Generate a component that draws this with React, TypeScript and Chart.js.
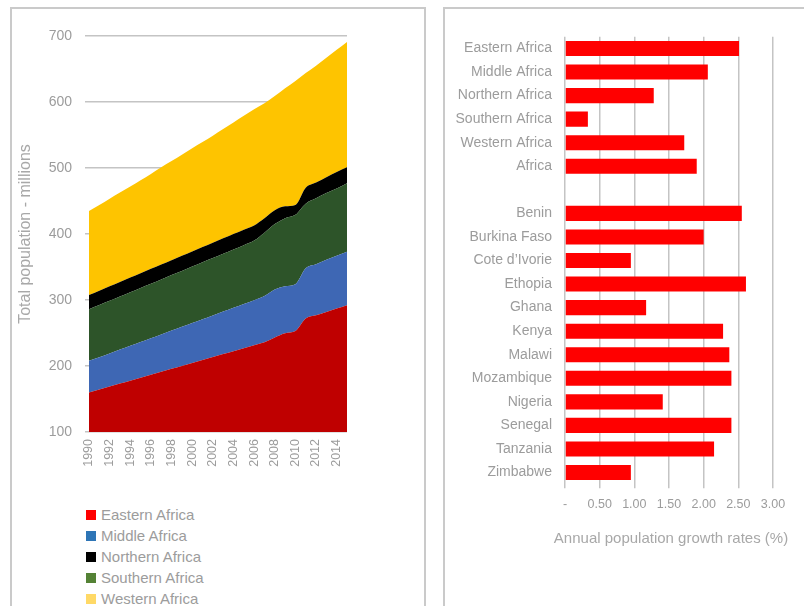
import React, { useEffect, useRef } from "react";
import { Chart, registerables } from "chart.js";

Chart.register(...registerables);

// ---------- Left chart data ----------
const years = [
  "1990", "1991", "1992", "1993", "1994", "1995", "1996", "1997", "1998", "1999",
  "2000", "2001", "2002", "2003", "2004", "2005", "2006", "2007", "2008", "2009",
  "2010", "2011", "2012", "2013", "2014", "2015",
];
const yearTickLabels = [
  "1990", "1992", "1994", "1996", "1998", "2000", "2002", "2004", "2006", "2008", "2010", "2012", "2014",
];
const easternAfrica = [160, 164.5, 169, 173.4, 177.8, 182.3, 186.8, 191.2, 195.7, 200.1, 204.6, 209, 213.5, 218, 222.4, 226.9, 231.4, 236, 243, 249.5, 253, 272, 277, 282, 287, 292];
const middleAfrica = [48, 48.9, 50.1, 51.5, 52.8, 54.1, 55.4, 56.7, 58, 59.3, 60.6, 62, 63.2, 64.5, 65.8, 67.1, 68.4, 70, 73, 71.5, 71, 76, 77, 79, 80, 81];
const southernAfrica = [78, 79, 79.7, 80.4, 81.2, 81.9, 82.5, 83.3, 84, 84.7, 85.4, 86.1, 86.8, 87.5, 88.3, 89, 90.2, 96, 99, 103, 105, 98, 100, 101, 102, 104];
const northernAfrica = [21.6, 21.8, 22, 22.1, 22.2, 22.3, 22.5, 22.6, 22.7, 22.9, 23, 23.1, 23.3, 23.4, 23.5, 23.6, 23, 22, 21, 18, 15, 24, 24, 24, 25, 24];
const westernAfrica = [127.4, 129.8, 132.7, 135.6, 138, 140.9, 143.8, 147.2, 150.1, 153, 156.4, 159.3, 162.2, 165.6, 169, 172.4, 176, 174, 173, 179, 188, 174, 177, 181, 185, 190];

const legendNames = ["Eastern Africa", "Middle Africa", "Northern Africa", "Southern Africa", "Western Africa"];
const legendColors = ["#ff0000", "#2e75b6", "#000000", "#548235", "#ffd966"];

// ---------- Right chart data ----------
const growthCategories = [
  "Eastern Africa", "Middle Africa", "Northern Africa", "Southern Africa", "Western Africa", "Africa", "",
  "Benin", "Burkina Faso", "Cote d\u2019Ivorie", "Ethopia", "Ghana", "Kenya", "Malawi", "Mozambique",
  "Nigeria", "Senegal", "Tanzania", "Zimbabwe",
];
const growthRates = [2.51, 2.06, 1.28, 0.33, 1.72, 1.9, null, 2.55, 2.0, 0.95, 2.61, 1.17, 2.28, 2.37, 2.4, 1.41, 2.4, 2.15, 0.95];
const growthTickLabels = ["-", "0.50", "1.00", "1.50", "2.00", "2.50", "3.00"];
const growthAxisTitle = "Annual population growth rates (%)";

const FONT = "'Liberation Sans', Arial, Helvetica, sans-serif";
const TEXT = "#9c9c9c";
const GRID = "#c4c4c4";
const PANEL_BORDER = "2px solid #cacaca";

function AreaChart() {
  const ref = useRef<HTMLCanvasElement>(null);
  useEffect(() => {
    const mk = (label: string, data: number[], color: string, fill: any) => ({
      label,
      data,
      backgroundColor: color,
      borderColor: "rgba(0,0,0,0)",
      borderWidth: 0,
      pointRadius: 0,
      fill,
      cubicInterpolationMode: "monotone" as const,
    });
    const chart = new Chart(ref.current!, {
      type: "line",
      data: {
        labels: years,
        datasets: [
          mk("Eastern Africa", easternAfrica, "#bf0000", "start"),
          mk("Middle Africa", middleAfrica, "#3e67b4", "-1"),
          mk("Southern Africa", southernAfrica, "#2d5429", "-1"),
          mk("Northern Africa", northernAfrica, "#000000", "-1"),
          mk("Western Africa", westernAfrica, "#fec400", "-1"),
        ],
      },
      options: {
        responsive: false,
        animation: false,
        layout: { padding: { top: 27, right: 65, left: 0, bottom: 0 } },
        plugins: { legend: { display: false }, tooltip: { enabled: false } },
        scales: {
          x: {
            type: "category",
            offset: false,
            grid: { display: false, drawTicks: false },
            border: { display: false },
            ticks: {
              autoSkip: false,
              minRotation: 90,
              maxRotation: 90,
              padding: 7,
              color: TEXT,
              font: { family: FONT, size: 12.5 },
              callback: (_v: any, i: number) => (yearTickLabels.includes(years[i]) ? years[i] : ""),
            },
            afterFit: (s: any) => {
              s.height = 47;
            },
          },
          y: {
            stacked: true,
            min: 100,
            max: 700,
            ticks: { stepSize: 100, padding: 13, color: TEXT, font: { family: FONT, size: 14 } },
            grid: { color: GRID, lineWidth: 1.5, tickLength: 4, drawTicks: true },
            border: { display: false },
            title: {
              display: true,
              text: "Total population - millions",
              color: "#a8a8a8",
              font: { family: FONT, size: 16 },
            },
            afterFit: (s: any) => {
              s.width = 77;
            },
          },
        },
      },
    });
    return () => chart.destroy();
  }, []);
  return (
    <canvas
      ref={ref}
      width={400}
      height={470}
      style={{ position: "absolute", left: 12, top: 9, width: 400, height: 470 }}
    />
  );
}

const xTitlePlugin = {
  id: "xTitleFree",
  afterDraw(chart: any) {
    const xs = chart.scales.x;
    const ctx = chart.ctx;
    ctx.save();
    ctx.font = `15px ${FONT}`;
    ctx.fillStyle = "#a8a8a8";
    ctx.textAlign = "center";
    ctx.textBaseline = "middle";
    ctx.fillText(growthAxisTitle, (xs.left + xs.right) / 2 + 2, xs.bottom - 13);
    ctx.restore();
  },
};

function BarChart() {
  const ref = useRef<HTMLCanvasElement>(null);
  useEffect(() => {
    const chart = new Chart(ref.current!, {
      type: "bar",
      data: {
        labels: growthCategories,
        datasets: [
          {
            label: growthAxisTitle,
            data: growthRates,
            backgroundColor: "#ff0000",
            borderWidth: 0,
            barPercentage: 0.64,
            categoryPercentage: 1,
          },
        ],
      },
      options: {
        indexAxis: "y",
        responsive: false,
        animation: false,
        layout: { padding: { top: 27.7, right: 29, left: 0, bottom: 0 } },
        plugins: { legend: { display: false }, tooltip: { enabled: false } },
        scales: {
          x: {
            min: 0,
            max: 3,
            ticks: {
              stepSize: 0.5,
              padding: 9,
              color: TEXT,
              font: { family: FONT, size: 12.5 },
              callback: (_v: any, i: number) => growthTickLabels[i],
            },
            grid: { color: GRID, lineWidth: 1.5, tickLength: 4, drawTicks: true },
            border: { display: false },
            afterFit: (s: any) => {
              s.height = 67.7;
            },
          },
          y: {
            grid: { display: false, drawTicks: false },
            border: { display: false },
            ticks: { autoSkip: false, padding: 13, color: TEXT, font: { family: FONT, size: 14 } },
            afterFit: (s: any) => {
              s.width = 119;
            },
          },
        },
      },
      plugins: [xTitlePlugin],
    });
    return () => chart.destroy();
  }, []);
  return (
    <canvas
      ref={ref}
      width={356}
      height={543}
      style={{ position: "absolute", left: 446, top: 9, width: 356, height: 543 }}
    />
  );
}

function Legend() {
  return (
    <div style={{ position: "absolute", left: 86, top: 504, fontFamily: FONT, fontSize: 15, color: TEXT }}>
      {legendNames.map((name, i) => (
        <div key={name} style={{ display: "flex", alignItems: "center", height: 21, whiteSpace: "nowrap" }}>
          <span style={{ display: "inline-block", width: 10, height: 10, background: legendColors[i], marginRight: 5 }} />
          <span>{name}</span>
        </div>
      ))}
    </div>
  );
}

export default function App() {
  return (
    <div style={{ position: "fixed", left: 0, top: 0, width: 804, height: 606, overflow: "hidden", background: "#fff" }}>
      <div
        style={{ position: "absolute", left: 10, top: 7, width: 412, height: 640, border: PANEL_BORDER }}
      />
      <div
        style={{ position: "absolute", left: 443, top: 7, width: 420, height: 640, border: PANEL_BORDER }}
      />
      <AreaChart />
      <Legend />
      <BarChart />
    </div>
  );
}
